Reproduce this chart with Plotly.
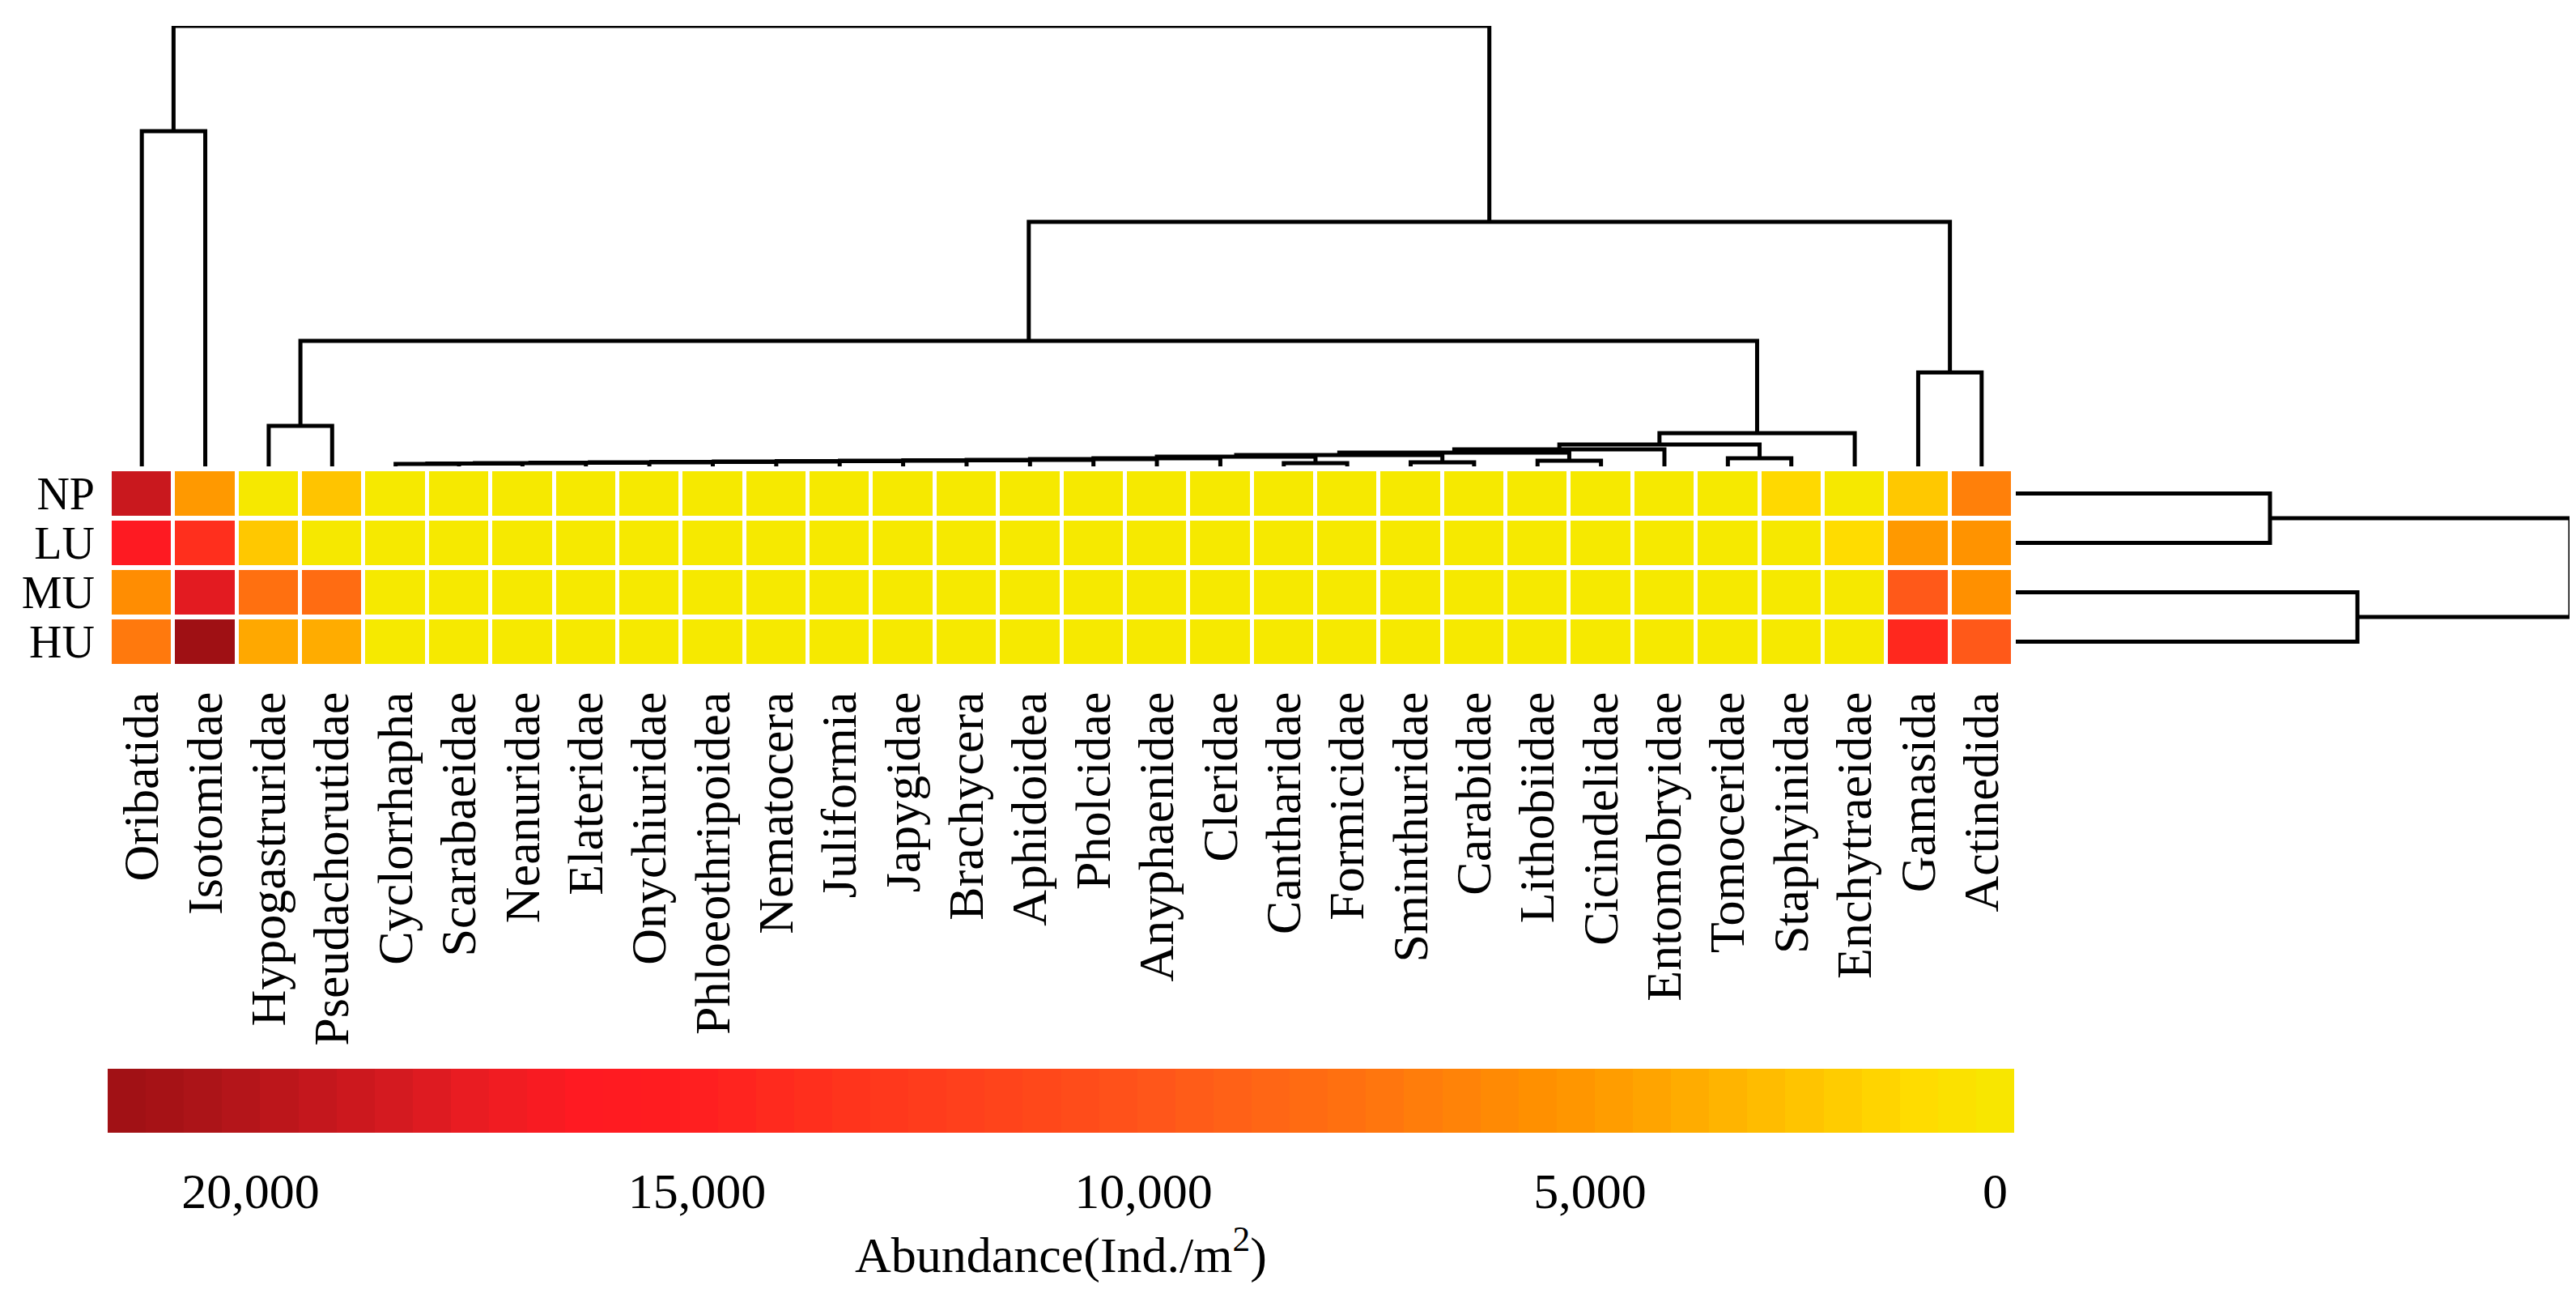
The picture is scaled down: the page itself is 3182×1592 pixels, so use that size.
import plotly.graph_objects as go

W, H = 3182, 1592

taxa = [
    "Oribatida", "Isotomidae", "Hypogastruridae", "Pseudachorutidae", "Cyclorrhapha",
    "Scarabaeidae", "Neanuridae", "Elateridae", "Onychiuridae", "Phloeothripoidea",
    "Nematocera", "Juliformia", "Japygidae", "Brachycera", "Aphidoidea",
    "Pholcidae", "Anyphaenidae", "Cleridae", "Cantharidae", "Formicidae",
    "Sminthuridae", "Carabidae", "Lithobiidae", "Cicindelidae", "Entomobryidae",
    "Tomoceridae", "Staphyinidae", "Enchytraeidae", "Gamasida", "Actinedida",
]
sites = ["NP", "LU", "MU", "HU"]

# abundance (Ind./m2)
np_vals = [19000, 5000, 300, 2600, 20, 20, 20, 20, 20, 30, 20, 20, 20, 20, 30,
           20, 20, 20, 20, 40, 60, 50, 60, 100, 200, 250, 1500, 300, 2400, 6650]
lu_vals = [16300, 13700, 2400, 300, 20, 20, 20, 20, 20, 20, 20, 20, 20, 20, 20,
           20, 20, 20, 20, 20, 50, 50, 40, 60, 150, 200, 300, 1300, 5000, 5400]
mu_vals = [5800, 17800, 7700, 8100, 20, 20, 20, 20, 20, 20, 20, 20, 20, 20, 20,
           20, 20, 20, 20, 20, 40, 40, 40, 60, 120, 150, 200, 300, 9600, 5600]
hu_vals = [7100, 21500, 4100, 3900, 20, 20, 20, 20, 20, 20, 20, 20, 20, 20, 20,
           20, 20, 20, 20, 20, 40, 40, 40, 60, 120, 150, 200, 250, 14300, 9600]

# column clustering: (left, right, height, name)
col_merges = [
    ("Cyclorrhapha", "Scarabaeidae", 3, "c1"),
    ("c1", "Neanuridae", 3.5, "c2"),
    ("c2", "Elateridae", 4, "c3"),
    ("c3", "Onychiuridae", 4.5, "c4"),
    ("c4", "Phloeothripoidea", 5, "c5"),
    ("c5", "Nematocera", 5.5, "c6"),
    ("c6", "Juliformia", 6, "c7"),
    ("c7", "Japygidae", 6.5, "c8"),
    ("c8", "Brachycera", 7, "c9"),
    ("c9", "Aphidoidea", 7.5, "c10"),
    ("c10", "Pholcidae", 8, "c11"),
    ("c11", "Anyphaenidae", 9, "c12"),
    ("c12", "Cleridae", 10, "c13"),
    ("Cantharidae", "Formicidae", 4, "p1"),
    ("c13", "p1", 12, "c14"),
    ("Sminthuridae", "Carabidae", 5, "p2"),
    ("c14", "p2", 14, "c15"),
    ("Lithobiidae", "Cicindelidae", 7, "p3"),
    ("c15", "p3", 17, "c16"),
    ("c16", "Entomobryidae", 21, "c17"),
    ("Tomoceridae", "Staphyinidae", 10, "p4"),
    ("c17", "p4", 27, "c18"),
    ("c18", "Enchytraeidae", 41, "c19"),
    ("Hypogastruridae", "Pseudachorutidae", 50, "p5"),
    ("p5", "c19", 155, "b"),
    ("Gamasida", "Actinedida", 116, "p6"),
    ("b", "p6", 302, "a"),
    ("Oribatida", "Isotomidae", 414, "p7"),
    ("p7", "a", 544, "root"),
]

# row clustering
row_merges = [
    ("NP", "LU", 314, "r1"),
    ("MU", "HU", 422, "r2"),
    ("r1", "r2", 685, "root"),
]

cb_min, cb_max, cb_steps = 250, 21600, 50
cb_ticks = [20000, 15000, 10000, 5000]
cb_ticktext = ["20,000", "15,000", "10,000", "5,000"]

colors = [
    "#F6E900", "#FFDC00", "#FFC800", "#FFB400", "#FFA000", "#FF9000", "#FF800A",
    "#FF7010", "#FF6416", "#FF561A", "#FF4A1A", "#FF401C", "#FF361C", "#FF2A1E",
    "#FF1C20", "#FF1A22", "#EE1C22", "#D41A20", "#C0161C", "#AC1418", "#9E1014",
]
colorscale = [[i / (len(colors) - 1), c] for i, c in enumerate(colors)]


def dendro_lines(leaves, merges):
    pos = {name: i for i, name in enumerate(leaves)}
    hgt = {name: 0 for name in leaves}
    a, b = [], []
    for left, right, h, name in merges:
        pl, pr = pos[left], pos[right]
        a += [pl, pl, pr, pr, None]
        b += [hgt[left], h, h, hgt[right], None]
        pos[name] = (pl + pr) / 2
        hgt[name] = h
    return a, b


def py(p):
    return 1 - p / H


serif = "Liberation Serif"
fig = go.Figure()

fig.add_trace(go.Heatmap(
    z=[np_vals, lu_vals, mu_vals, hu_vals],
    x=list(range(len(taxa))), y=list(range(len(sites))),
    colorscale=colorscale, zmin=cb_min, zmax=cb_max,
    showscale=False, xgap=5, ygap=6, hoverinfo="skip",
    xaxis="x", yaxis="y",
))

cx, cy = dendro_lines(taxa, col_merges)
fig.add_trace(go.Scatter(
    x=cx, y=cy, mode="lines", line=dict(color="black", width=5),
    xaxis="x2", yaxis="y2", cliponaxis=False, hoverinfo="skip",
))

ry, rx = dendro_lines(sites, row_merges)
fig.add_trace(go.Scatter(
    x=rx, y=ry, mode="lines", line=dict(color="black", width=5),
    xaxis="x3", yaxis="y3", cliponaxis=False, hoverinfo="skip",
))

step = (cb_max - cb_min) / cb_steps
cb_vals = [cb_min + step * (i + 0.5) for i in range(cb_steps)]
fig.add_trace(go.Heatmap(
    z=[cb_vals], x=cb_vals, y=[0],
    colorscale=colorscale, zmin=cb_min, zmax=cb_max,
    showscale=False, hoverinfo="skip", xaxis="x4", yaxis="y4",
))

hm_x = [128 / W, 2479 / W]
hm_y = [py(815), py(571)]
blank = dict(showgrid=False, zeroline=False, showline=False,
             showticklabels=False, ticks="")

fig.update_layout(
    width=W, height=H,
    margin=dict(l=0, r=0, t=0, b=0),
    paper_bgcolor="white", plot_bgcolor="white",
    showlegend=False,
    font=dict(family=serif, color="black"),
    xaxis=dict(
        domain=hm_x, range=[-0.5, len(taxa) - 0.5], anchor="y",
        tickvals=list(range(len(taxa))), ticktext=taxa, tickangle=-90,
        tickfont=dict(size=62, family=serif), ticks="", ticklabelstandoff=18,
        showgrid=False, zeroline=False, showline=False,
    ),
    yaxis=dict(
        domain=hm_y, range=[len(sites) - 0.5, -0.5], anchor="x",
        tickvals=list(range(len(sites))), ticktext=sites,
        tickfont=dict(size=56, family=serif), ticks="", ticklabelstandoff=18,
        showgrid=False, zeroline=False, showline=False,
    ),
    xaxis2=dict(domain=hm_x, range=[-0.5, len(taxa) - 0.5], anchor="y2", **blank),
    yaxis2=dict(domain=[py(568), py(24)], range=[0, 544], anchor="x2", **blank),
    xaxis3=dict(domain=[2482 / W, 3167 / W], range=[0, 685], anchor="y3", **blank),
    yaxis3=dict(domain=hm_y, range=[len(sites) - 0.5, -0.5], anchor="x3", **blank),
    xaxis4=dict(
        domain=[125 / W, 2480 / W], range=[cb_max, cb_min], anchor="y4",
        tickvals=cb_ticks + [cb_vals[0]], ticktext=cb_ticktext + ["0"],
        tickfont=dict(size=62, family=serif), ticks="", ticklabelstandoff=30,
        showgrid=False, zeroline=False, showline=False,
    ),
    yaxis4=dict(domain=[py(1391), py(1312)], range=[-0.5, 0.5], anchor="x4", **blank),
    annotations=[dict(
        text="Abundance(Ind./m<sup>2</sup>)", xref="paper", yref="paper",
        x=(125 + 2480) / 2 / W, y=py(1537), xanchor="center", yanchor="middle",
        showarrow=False, font=dict(size=62, family=serif, color="black"),
    )],
)

fig.write_html("out.html")
